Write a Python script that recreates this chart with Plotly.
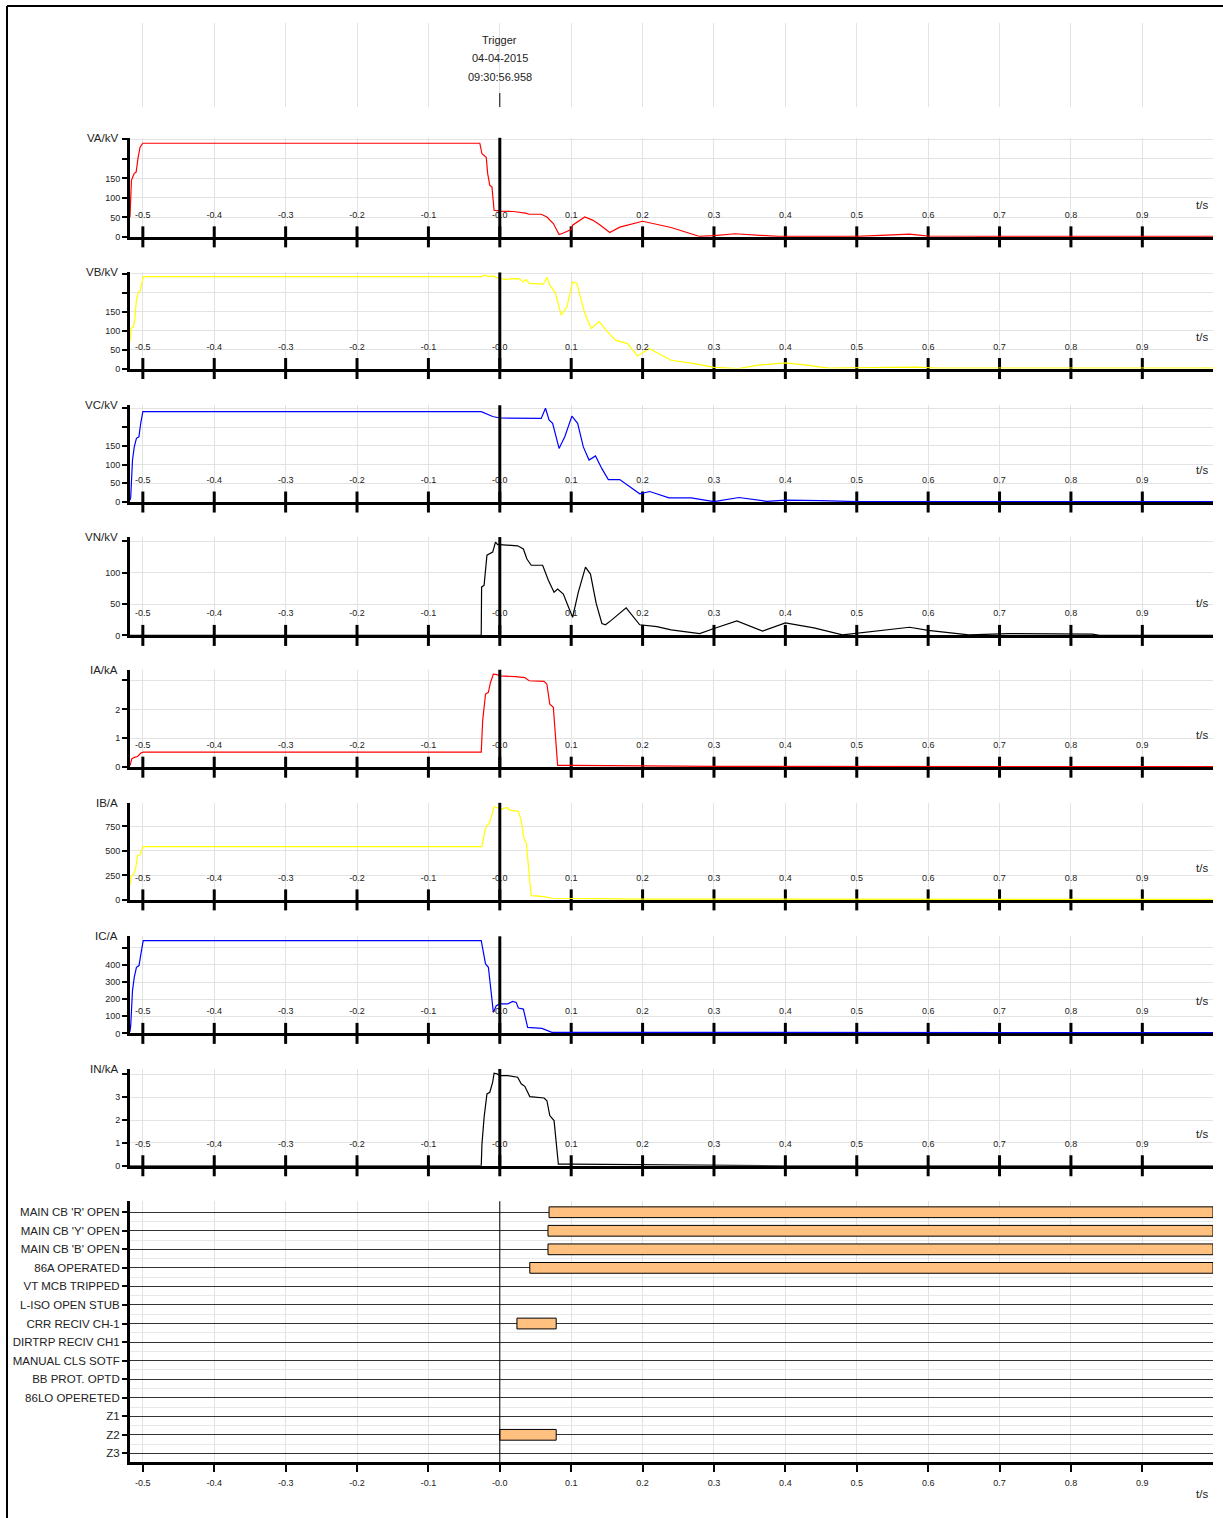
import plotly.graph_objects as go

# ---------------- data ----------------
T_TICKS = [-0.5, -0.4, -0.3, -0.2, -0.1, 0.0, 0.1, 0.2, 0.3, 0.4, 0.5, 0.6, 0.7, 0.8, 0.9]
T_LABELS = ["-0.5", "-0.4", "-0.3", "-0.2", "-0.1", "-0.0", "0.1", "0.2", "0.3",
            "0.4", "0.5", "0.6", "0.7", "0.8", "0.9"]
T_RANGE = [-0.518, 0.999]

TRIGGER_TEXT = ["Trigger", "04-04-2015", "09:30:56.958"]

VA_T = [-0.518, -0.516, -0.512, -0.5094, -0.5066, -0.5039, -0.5, -0.028, -0.025, -0.019, -0.017,
        -0.014, -0.011, -0.008, 0.0, 0.019, 0.036, 0.041, 0.058, 0.066, 0.075, 0.083, 0.089, 0.1,
        0.102, 0.119, 0.13, 0.14, 0.154, 0.168, 0.2, 0.24, 0.28, 0.30, 0.33, 0.36, 0.39, 0.5,
        0.574, 0.6, 0.7, 0.999]
VA_V = [50, 145, 163, 166, 204, 230, 240, 240, 213, 204, 162, 132, 128, 68, 66, 65, 61, 58, 58,
        51, 34, 6, 10, 19, 30, 51, 43, 31, 11, 25, 40, 24, 1, 3, 8, 5, 1, 1, 7, 2, 1, 1]
VA_YTICKS = [0, 50, 100, 150, 200, 250]
VA_YLABELS = ["0", "50", "100", "150", "", ""]

VB_T = [-0.518, -0.5166, -0.5134, -0.5113, -0.509, -0.5064, -0.5038, -0.5021, -0.4995, -0.026,
        -0.021, -0.016, -0.01, -0.005, 0.0, 0.009, 0.027, 0.033, 0.037, 0.041, 0.061, 0.066, 0.07,
        0.078, 0.086, 0.094, 0.102, 0.108, 0.119, 0.128, 0.139, 0.151, 0.162, 0.179, 0.193, 0.209,
        0.24, 0.273, 0.30, 0.335, 0.362, 0.4, 0.43, 0.46, 0.53, 0.585, 0.61, 0.999]
VB_V = [71, 106, 110, 128, 181, 201, 206, 225, 243, 243, 247, 243, 245, 241, 238, 236, 238, 229,
        236, 225, 223, 241, 221, 199, 141, 163, 229, 225, 146, 106, 124, 97, 75, 66, 33, 53, 22,
        13, 3, 0, 9, 15, 9, 1, 3, 4, 1, 1]
VB_YTICKS = [0, 50, 100, 150, 200, 250]
VB_YLABELS = ["0", "50", "100", "150", "", ""]

VC_T = [-0.518, -0.517, -0.5145, -0.512, -0.509, -0.5055, -0.503, -0.5, -0.026, -0.018, -0.01,
        0.0, 0.02, 0.04, 0.058, 0.064, 0.069, 0.074, 0.083, 0.091, 0.101, 0.109, 0.117, 0.125,
        0.134, 0.143, 0.152, 0.168, 0.183, 0.196, 0.21, 0.237, 0.268, 0.3, 0.335, 0.374, 0.4,
        0.45, 0.5, 0.999]
VC_V = [5, 13, 112, 147, 170, 174, 210, 241, 241, 235, 228, 224, 224, 222, 223, 250, 219, 210,
        143, 174, 229, 210, 147, 112, 123, 89, 60, 60, 40, 22, 28, 11, 11, 1, 12, 2, 5, 4, 1, 1]
VC_YTICKS = [0, 50, 100, 150, 200, 250]
VC_YLABELS = ["0", "50", "100", "150", "", ""]

VN_T = [-0.518, -0.026, -0.0255, -0.022, -0.018, -0.014, -0.01, -0.006, -0.003, 0.0, 0.025,
        0.033, 0.038, 0.044, 0.06, 0.068, 0.076, 0.081, 0.089, 0.097, 0.102, 0.11, 0.12, 0.127,
        0.135, 0.143, 0.148, 0.156, 0.177, 0.196, 0.22, 0.24, 0.28, 0.30, 0.332, 0.368, 0.4,
        0.44, 0.48, 0.574, 0.6, 0.657, 0.713, 0.83, 0.84, 0.999]
VN_V = [0, 0, 77, 80, 128, 130, 133, 149, 145, 145, 143, 138, 122, 112, 112, 88, 69, 74, 66, 43,
        29, 69, 109, 98, 51, 19, 17, 24, 44, 17, 14, 9, 3, 11, 23, 7, 20, 12, 1, 13, 8, 1, 3, 2,
        0, 0]
VN_YTICKS = [0, 50, 100, 150]
VN_YLABELS = ["0", "50", "100", ""]

IA_T = [-0.518, -0.5155, -0.5118, -0.5075, -0.5027, -0.4995, -0.026, -0.024, -0.02, -0.016,
        -0.013, -0.009, -0.004, 0.0, 0.022, 0.035, 0.041, 0.062, 0.066, 0.07, 0.075, 0.081, 0.1,
        0.3, 0.999]
IA_V = [0.06, 0.29, 0.34, 0.37, 0.49, 0.52, 0.52, 1.61, 2.53, 2.59, 2.93, 3.22, 3.2, 3.16, 3.13,
        3.1, 2.99, 2.97, 2.87, 2.18, 2.07, 0.06, 0.06, 0.03, 0.02]
IA_YTICKS = [0, 1, 2, 3]
IA_YLABELS = ["0", "1", "2", ""]

IB_T = [-0.518, -0.5166, -0.5129, -0.5102, -0.5075, -0.5038, -0.5021, -0.4995, -0.025, -0.021,
        -0.018, -0.015, -0.01, -0.008, -0.002, 0.003, 0.009, 0.014, 0.026, 0.03, 0.034, 0.037,
        0.044, 0.062, 0.073, 0.2, 0.999]
IB_V = [146, 237, 265, 316, 451, 461, 502, 543, 543, 706, 763, 774, 892, 950, 937, 926, 943, 916,
        903, 808, 621, 587, 44, 34, 17, 8, 5]
IB_YTICKS = [0, 250, 500, 750]
IB_YLABELS = ["0", "250", "500", "750"]

IC_T = [-0.518, -0.517, -0.5145, -0.512, -0.509, -0.5054, -0.5027, -0.4995, -0.026, -0.024,
        -0.02, -0.016, -0.012, -0.009, -0.005, 0.0, 0.011, 0.018, 0.023, 0.026, 0.033, 0.039,
        0.059, 0.073, 0.999]
IC_V = [10, 45, 250, 328, 386, 396, 464, 542, 542, 503, 406, 386, 250, 123, 162, 172, 172, 187,
        181, 148, 142, 35, 29, 6, 4]
IC_YTICKS = [0, 100, 200, 300, 400, 500]
IC_YLABELS = ["0", "100", "200", "300", "400", ""]

IN_T = [-0.518, -0.026, -0.025, -0.022, -0.018, -0.014, -0.01, -0.008, -0.004, 0.0, 0.011, 0.025,
        0.03, 0.035, 0.042, 0.062, 0.066, 0.07, 0.076, 0.082, 0.1, 0.225, 0.4, 0.999]
IN_V = [0, 0, 0.95, 2.12, 3.15, 3.22, 3.66, 4.06, 4.03, 3.95, 3.95, 3.88, 3.59, 3.48, 3.03, 2.97,
        2.85, 2.2, 1.98, 0.07, 0.07, 0.03, 0.0, 0.0]
IN_YTICKS = [0, 1, 2, 3, 4]
IN_YLABELS = ["0", "1", "2", "3", ""]

DIG_NAMES = ["MAIN CB 'R' OPEN", "MAIN CB 'Y' OPEN", "MAIN CB 'B' OPEN", "86A OPERATED",
             "VT MCB TRIPPED", "L-ISO OPEN STUB", "CRR RECIV CH-1", "DIRTRP RECIV CH1",
             "MANUAL CLS SOTF", "BB PROT. OPTD", "86LO OPERETED", "Z1", "Z2", "Z3"]
DIG_ON_CHANNEL = ["MAIN CB 'R' OPEN", "MAIN CB 'Y' OPEN", "MAIN CB 'B' OPEN", "86A OPERATED",
                  "CRR RECIV CH-1", "Z2"]
DIG_ON_START = [0.069, 0.0675, 0.0675, 0.042, 0.024, 0.0]
DIG_ON_END = [0.999, 0.999, 0.999, 0.999, 0.079, 0.079]

# ---------------- styling / layout ----------------
W, H_REF = 1223, 1518
FIG_H = 1524
FONT = "Liberation Sans, Arial, sans-serif"
GRID = "#E3E3E3"
TXT = "#222"


def fx(px):
    return px / W


def fy(px):
    return 1 - px / H_REF


X_DOMAIN = [fx(130), fx(1213)]
PANEL_TOP = [137.7, 272.3, 405, 536.7, 669.3, 802.3, 935.7, 1068.3]
PANEL_BOT = [236.7, 368.3, 501.7, 635, 766.7, 899.3, 1032.7, 1165]

ANALOG = [
    ("VA/kV", VA_T, VA_V, "#FF0000", 254, VA_YTICKS, VA_YLABELS),
    ("VB/kV", VB_T, VB_V, "#FFFF00", 254, VB_YTICKS, VB_YLABELS),
    ("VC/kV", VC_T, VC_V, "#0000FF", 258, VC_YTICKS, VC_YLABELS),
    ("VN/kV", VN_T, VN_V, "#000000", 157, VN_YTICKS, VN_YLABELS),
    ("IA/kA", IA_T, IA_V, "#FF0000", 3.37, IA_YTICKS, IA_YLABELS),
    ("IB/A", IB_T, IB_V, "#FFFF00", 990, IB_YTICKS, IB_YLABELS),
    ("IC/A", IC_T, IC_V, "#0000FF", 567, IC_YTICKS, IC_YLABELS),
    ("IN/kA", IN_T, IN_V, "#000000", 4.24, IN_YTICKS, IN_YLABELS),
]

fig = go.Figure()
layout = dict(
    width=W, height=FIG_H, margin=dict(l=0, r=0, t=0, b=0),
    paper_bgcolor="white", plot_bgcolor="white", showlegend=False,
    font=dict(family=FONT, size=9, color=TXT),
)
shapes = []
annotations = []

for k, (label, tt, vv, color, ymax, yt, yl) in enumerate(ANALOG):
    i = k + 1
    top = PANEL_TOP[k]
    bot = PANEL_BOT[k]
    xn = "x" if i == 1 else f"x{i}"
    yn = "y" if i == 1 else f"y{i}"
    xa = "xaxis" if i == 1 else f"xaxis{i}"
    ya = "yaxis" if i == 1 else f"yaxis{i}"
    lab_id = 11 + k
    # cross tick marks on the time axis
    fig.add_trace(go.Scatter(
        x=T_TICKS, y=[0] * len(T_TICKS), xaxis=xn, yaxis=yn, mode="markers",
        marker=dict(symbol="line-ns", size=15, line=dict(width=3, color="black")),
        cliponaxis=False, hoverinfo="skip"))
    fig.add_trace(go.Scatter(
        x=tt, y=vv, xaxis=xn, yaxis=yn, mode="lines",
        line=dict(color=color, width=1.2), cliponaxis=False))
    # time labels drawn inside the panel by an overlaid free axis
    fig.add_trace(go.Scatter(x=[None], y=[None], xaxis=f"x{lab_id}", yaxis=yn,
                             mode="lines", hoverinfo="skip"))
    layout[xa] = dict(
        domain=X_DOMAIN, range=T_RANGE, anchor=yn, tickmode="array",
        tickvals=T_TICKS, ticks="", showticklabels=False,
        showgrid=True, gridcolor=GRID, gridwidth=1,
        showline=True, linewidth=3, linecolor="black", zeroline=False,
        layer="below traces")
    layout[f"xaxis{lab_id}"] = dict(
        domain=X_DOMAIN, range=T_RANGE, anchor="free", overlaying=xn, side="bottom",
        position=fy(bot - 29), tickmode="array", tickvals=T_TICKS, ticktext=T_LABELS,
        ticks="", showgrid=False, showline=False, zeroline=False,
        tickfont=dict(size=9, color=TXT))
    layout[ya] = dict(
        domain=[fy(bot), fy(top)], range=[0, ymax], anchor=xn, tickmode="array",
        tickvals=yt, ticktext=yl, ticks="outside", ticklen=5, tickwidth=2,
        tickcolor="black", showgrid=True, gridcolor=GRID, gridwidth=1,
        showline=True, linewidth=3, linecolor="black", zeroline=False,
        tickfont=dict(size=9, color=TXT))
    annotations.append(dict(text=label, xref="paper", yref="paper", x=fx(120), y=fy(top),
                            xanchor="right", yanchor="middle", showarrow=False,
                            font=dict(size=11.5, color=TXT)))
    annotations.append(dict(text="t/s", xref="paper", yref="paper", x=fx(1202), y=fy(bot - 32),
                            xanchor="center", yanchor="middle", showarrow=False,
                            font=dict(size=11.5, color=TXT)))
    shapes.append(dict(type="line", xref=xn, yref=f"{yn} domain", x0=0, x1=0, y0=0, y1=1,
                       line=dict(color="black", width=3)))

# ---------------- digital channels ----------------
n = len(DIG_NAMES)
pos = {name: n - 1 - j for j, name in enumerate(DIG_NAMES)}
fig.add_trace(go.Bar(
    orientation="h", y=[pos[c] for c in DIG_ON_CHANNEL],
    x=[e - s for s, e in zip(DIG_ON_START, DIG_ON_END)], base=DIG_ON_START,
    width=0.58, marker=dict(color="#FFC080", line=dict(color="black", width=1)),
    xaxis="x9", yaxis="y9"))
layout["xaxis9"] = dict(
    domain=X_DOMAIN, range=T_RANGE, anchor="y9", tickmode="array", tickvals=T_TICKS,
    ticktext=T_LABELS, ticks="outside", ticklen=7, tickwidth=2, tickcolor="black",
    ticklabelstandoff=3, showgrid=True, gridcolor=GRID, showline=True, linewidth=3,
    linecolor="black", zeroline=False, tickfont=dict(size=9, color=TXT))
layout["yaxis9"] = dict(
    domain=[fy(1461.5), fy(1200.5)], range=[-0.49, n - 1 + 0.59], anchor="x9",
    tickmode="array", tickvals=[pos[c] for c in DIG_NAMES], ticktext=DIG_NAMES,
    ticks="outside", ticklen=5, tickwidth=2, tickcolor="black",
    showgrid=True, gridcolor="#333", gridwidth=1, showline=True, linewidth=3,
    linecolor="black", zeroline=False, tickfont=dict(size=11.5, color=TXT),
    minor=dict(tickmode="array", tickvals=[p + 0.5 for p in range(n - 1)],
               showgrid=True, gridcolor="#E8E8E8", ticks=""))
annotations.append(dict(text="t/s", xref="paper", yref="paper", x=fx(1202), y=fy(1493),
                        xanchor="center", yanchor="middle", showarrow=False,
                        font=dict(size=11.5, color=TXT)))
shapes.append(dict(type="line", xref="x9", yref="y9 domain", x0=0, x1=0, y0=0, y1=1,
                   line=dict(color="black", width=1)))

# ---------------- trigger header ----------------
layout["xaxis10"] = dict(domain=X_DOMAIN, range=T_RANGE, anchor="y10", tickmode="array",
                         tickvals=T_TICKS, showticklabels=False, ticks="", showgrid=True,
                         gridcolor=GRID, showline=False, zeroline=False)
layout["yaxis10"] = dict(domain=[fy(107), fy(23)], range=[0, 1], anchor="x10", visible=False)
fig.add_trace(go.Scatter(x=[None], y=[None], xaxis="x10", yaxis="y10", mode="lines"))
for txt, ypx in zip(TRIGGER_TEXT, [40, 58, 77]):
    annotations.append(dict(text=txt, xref="x10", yref="paper", x=0, y=fy(ypx),
                            xanchor="center", yanchor="middle", showarrow=False,
                            font=dict(size=11, color=TXT)))
shapes.append(dict(type="line", xref="x10", yref="paper", x0=0, x1=0, y0=fy(93), y1=fy(107),
                   line=dict(color="black", width=1)))

# frame (left and top edges, kept inside the page)
shapes.append(dict(type="line", xref="paper", yref="paper", x0=fx(7), x1=fx(7),
                   y0=0, y1=fy(6), line=dict(color="black", width=2)))
shapes.append(dict(type="line", xref="paper", yref="paper", x0=fx(7), x1=1,
                   y0=fy(6), y1=fy(6), line=dict(color="black", width=2)))

layout["shapes"] = shapes
layout["annotations"] = annotations
fig.update_layout(**layout)

PAGE_CSS = (
    "var d=document.documentElement, b=document.body;"
    "d.style.margin='0'; d.style.padding='0';"
    "b.style.margin='0'; b.style.padding='0';"
)
fig.write_html("out.html", config={"displayModeBar": False}, post_script=PAGE_CSS)
